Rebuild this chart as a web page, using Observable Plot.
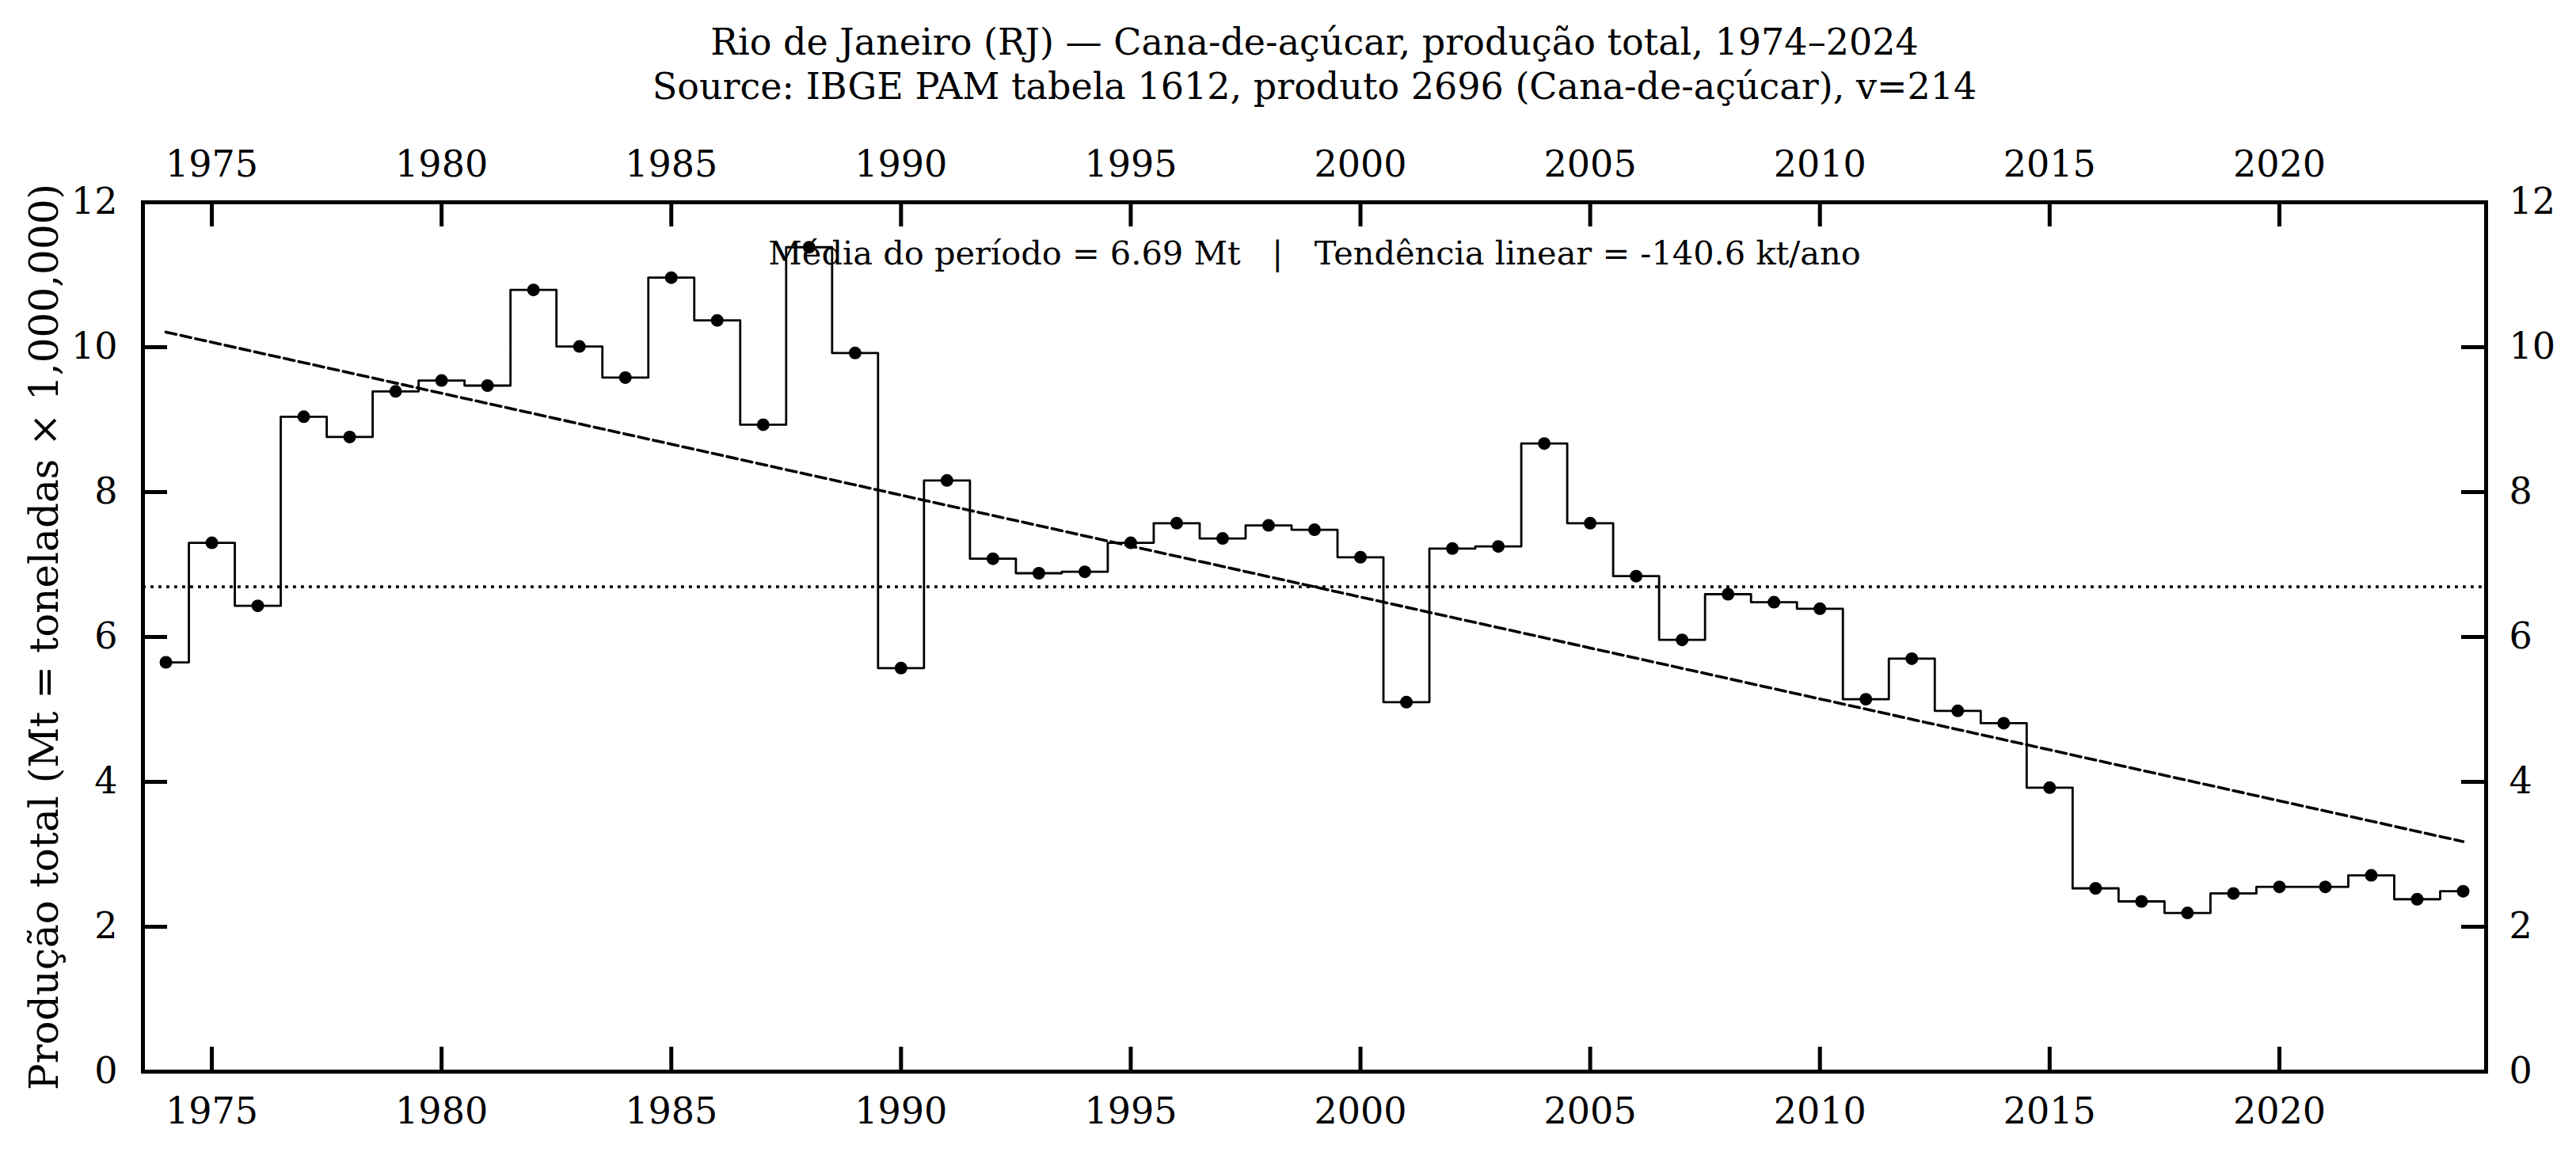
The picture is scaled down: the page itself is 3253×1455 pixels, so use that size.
<!DOCTYPE html>
<html>
<head>
<meta charset="utf-8">
<script src="https://cdn.jsdelivr.net/npm/d3@7"></script>
<script src="https://cdn.jsdelivr.net/npm/@observablehq/plot@0.6"></script>
<style>
  html, body { margin: 0; padding: 0; background: #fff; }
  #chart svg text { white-space: pre; }
</style>
</head>
<body>
<div id="chart"></div>
<script>
// Rio de Janeiro sugarcane output, IBGE PAM table 1612 (Mt per year)
const years = [
  1974, 1975, 1976, 1977, 1978, 1979, 1980, 1981, 1982, 1983,
  1984, 1985, 1986, 1987, 1988, 1989, 1990, 1991, 1992, 1993,
  1994, 1995, 1996, 1997, 1998, 1999, 2000, 2001, 2002, 2003,
  2004, 2005, 2006, 2007, 2008, 2009, 2010, 2011, 2012, 2013,
  2014, 2015, 2016, 2017, 2018, 2019, 2020, 2021, 2022, 2023, 2024
];
const production = [
  5.65, 7.30, 6.43, 9.04, 8.76, 9.39, 9.54, 9.47, 10.79, 10.01,
  9.58, 10.96, 10.37, 8.93, 11.38, 9.92, 5.57, 8.16, 7.08, 6.88,
  6.90, 7.30, 7.57, 7.36, 7.54, 7.48, 7.10, 5.10, 7.22, 7.25,
  8.67, 7.57, 6.84, 5.96, 6.59, 6.48, 6.39, 5.14, 5.70, 4.98,
  4.81, 3.92, 2.53, 2.35, 2.19, 2.46, 2.55, 2.55, 2.71, 2.38, 2.49
];
const xTicks = [1975, 1980, 1985, 1990, 1995, 2000, 2005, 2010, 2015, 2020];
const yTicks = [0, 2, 4, 6, 8, 10, 12];
const titleLines = [
  "Rio de Janeiro (RJ) — Cana-de-açúcar, produção total, 1974–2024",
  "Source: IBGE PAM tabela 1612, produto 2696 (Cana-de-açúcar), v=214"
];
const yLabel = "Produção total (Mt = toneladas × 1,000,000)";

// Layout
const W = 3253, H = 1455;
const mL = 180, mR = 114, mT = 255, mB = 102;
const frameW = W - mL - mR, frameH = H - mT - mB;
const tickLen = 31;
const font = "DejaVu Serif";

const data = years.map((year, i) => ({year, value: production[i]}));

// Period mean and least-squares trend
const mean = d3.mean(production);
const xMean = d3.mean(years);
const slope = d3.sum(years, (y, i) => (y - xMean) * (production[i] - mean)) /
              d3.sum(years, y => (y - xMean) ** 2);
const intercept = mean - slope * xMean;
const trend = [years[0], years[years.length - 1]].map(year => ({year, value: intercept + slope * year}));
const note = `Média do período = ${mean.toFixed(2)} Mt   |   Tendência linear = ${(slope * 1000).toFixed(1)} kt/ano`;

const axisCommon = {tickSize: 0, label: null, tickFormat: "d", fontSize: 46, fontFamily: font};

const chart = Plot.plot({
  width: W,
  height: H,
  marginLeft: mL,
  marginRight: mR,
  marginTop: mT,
  marginBottom: mB,
  style: {fontFamily: font, fontSize: "46px", background: "white", color: "black"},
  x: {domain: [1973.5, 2024.5]},
  y: {domain: [0, 12]},
  marks: [
    // mean and trend reference lines
    Plot.ruleY([mean], {stroke: "black", strokeWidth: 3.8, strokeDasharray: "3.8,6.2"}),
    Plot.line(trend, {x: "year", y: "value", stroke: "black", strokeWidth: 3.6, strokeDasharray: "13.3,5.8"}),
    // yearly production as a mid-step line with markers
    Plot.line(data, {x: "year", y: "value", curve: "step", stroke: "black", strokeWidth: 2.8}),
    Plot.dot(data, {x: "year", y: "value", r: 8, fill: "black", stroke: "none"}),
    // summary annotation
    Plot.text([note], {text: d => d, frameAnchor: "top", dy: 78, lineAnchor: "bottom", fontSize: 41.5, fontFamily: font}),
    // axes on all four sides, ticks pointing inward
    Plot.axisX(xTicks, {...axisCommon, anchor: "bottom", tickPadding: 33}),
    Plot.axisX(xTicks, {...axisCommon, anchor: "top", tickPadding: 33}),
    Plot.axisY(yTicks, {...axisCommon, anchor: "left", tickPadding: 32}),
    Plot.axisY(yTicks, {...axisCommon, anchor: "right", tickPadding: 29}),
    Plot.ruleX(xTicks, {x: d => d, insetBottom: frameH - tickLen, stroke: "black", strokeWidth: 5}),
    Plot.ruleX(xTicks, {x: d => d, insetTop: frameH - tickLen, stroke: "black", strokeWidth: 5}),
    Plot.ruleY(yTicks, {y: d => d, insetRight: frameW - tickLen, stroke: "black", strokeWidth: 5}),
    Plot.ruleY(yTicks, {y: d => d, insetLeft: frameW - tickLen, stroke: "black", strokeWidth: 5}),
    Plot.frame({stroke: "black", strokeWidth: 5}),
    // y axis title and chart titles
    Plot.text([yLabel], {text: d => d, frameAnchor: "left", dx: -108, rotate: -90, textAnchor: "middle", lineAnchor: "bottom", fontSize: 50, fontFamily: font}),
    Plot.text([titleLines[0]], {text: d => d, frameAnchor: "top", dy: 68 - mT, lineAnchor: "bottom", fontSize: 46, fontFamily: font}),
    Plot.text([titleLines[1]], {text: d => d, frameAnchor: "top", dy: 124 - mT, lineAnchor: "bottom", fontSize: 46, fontFamily: font})
  ]
});

document.getElementById("chart").appendChild(chart);
</script>
</body>
</html>
